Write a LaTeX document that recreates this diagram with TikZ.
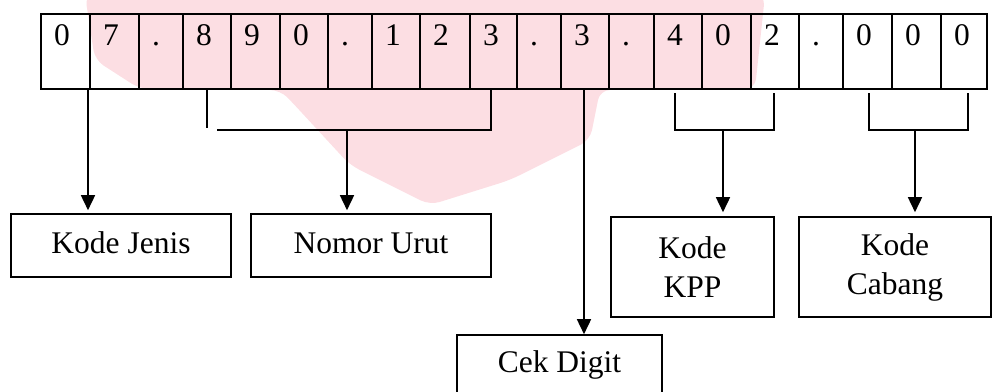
\documentclass[tikz,border=0pt]{standalone}
\usepackage{fontspec}
\setmainfont{Liberation Serif}
\usetikzlibrary{arrows.meta}
\definecolor{wm}{RGB}{252,222,227}
\newcommand\bigtxt{\fontsize{31.5pt}{39pt}\selectfont}
\tikzset{
  cell/.style={draw, line width=1.6pt, minimum height=75pt, inner sep=0pt},
  digit/.style={anchor=base west, inner sep=0pt, font=\bigtxt},
  lbl/.style={draw, line width=1.6pt, inner sep=0pt, font=\bigtxt, align=center},
  wire/.style={line width=1.6pt},
  arr/.style={line width=1.6pt, -{Triangle[width=14pt,length=15pt]}}
}
\begin{document}
\begin{tikzpicture}[x=1pt,y=-1pt]
\useasboundingbox (0,0) rectangle (993,391);
\clip (0,0) rectangle (993,391);
% faint watermark background
\fill[wm, rounded corners=10pt] (85,-5) -- (765,-5) -- (755,89) -- (600,90) -- (590,140)
  -- (510,180) -- (430,205) -- (350,165) -- (290,100) -- (280,90) -- (140,89) -- (95,60) -- cycle;
% number cells
\foreach \i/\l/\r/\d in {1/41/90/0, 2/90/139/7, 3/139/183/., 4/183/231/8, 5/231/280/9,
  6/280/328/0, 7/328/372/., 8/372/420/1, 9/420/470/2, 10/470/517/3, 11/517/561/.,
  12/561/609/3, 13/609/654/., 14/654/702/4, 15/702/751/0, 16/751/799/2, 17/799/843/.,
  18/843/892/0, 19/892/941/0, 20/941/987/0}{
  \pgfmathsetmacro\w{\r-\l}
  \node[cell, minimum width=\w pt] (c\i) at ({(\l+\r)/2},51.5) {};
  \node[digit] (d\i) at (\l+13,45) {\d};
}
% label boxes
\node[lbl, minimum width=220pt, minimum height=63pt, text height=22pt, text depth=7pt] (kj) at (121,245.5) {Kode Jenis};
\node[lbl, minimum width=240pt, minimum height=63pt, text height=22pt, text depth=7pt] (nu) at (371,245.5) {Nomor Urut};
\node[lbl, minimum width=163pt, minimum height=100pt] (kpp) at (692.5,267) {Kode\\KPP};
\node[lbl, minimum width=192pt, minimum height=100pt] (cab) at (895,267) {Kode\\Cabang};
\node[lbl, minimum width=205pt, minimum height=60pt, text height=22pt, text depth=7pt] (cek) at (559.5,365) {Cek Digit};
% connectors
\coordinate (kjs) at (88,89);
\draw[arr, shorten >=3pt] (kjs) -- (kjs |- kj.north);
% Nomor Urut bracket
\coordinate (nul) at (207,89);
\coordinate (nulb) at (207,128);
\coordinate (nuh) at (217,130);
\coordinate (nur) at (491,89);
\coordinate (nuc) at (347,130);
\draw[wire] (nul) -- (nulb);
\draw[wire] (nuh) -- (nur |- nuh) -- (nur);
\draw[arr, shorten >=3pt] (nuc) -- (nuc |- nu.north);
% Cek Digit
\coordinate (cks) at (584,89);
\draw[arr] (cks) -- (cks |- cek.north);
% KPP bracket
\coordinate (kpl) at (675,93);
\coordinate (kpr) at (774,93);
\coordinate (kpc) at (723,130);
\draw[wire] (kpl) -- (kpl |- kpc) -- (kpr |- kpc) -- (kpr);
\draw[arr, shorten >=4pt] (kpc) -- (kpc |- kpp.north);
% Cabang bracket
\coordinate (cbl) at (869,93);
\coordinate (cbr) at (968,93);
\coordinate (cbc) at (915,130);
\draw[wire] (cbl) -- (cbl |- cbc) -- (cbr |- cbc) -- (cbr);
\draw[arr, shorten >=4pt] (cbc) -- (cbc |- cab.north);
\end{tikzpicture}
\end{document}
